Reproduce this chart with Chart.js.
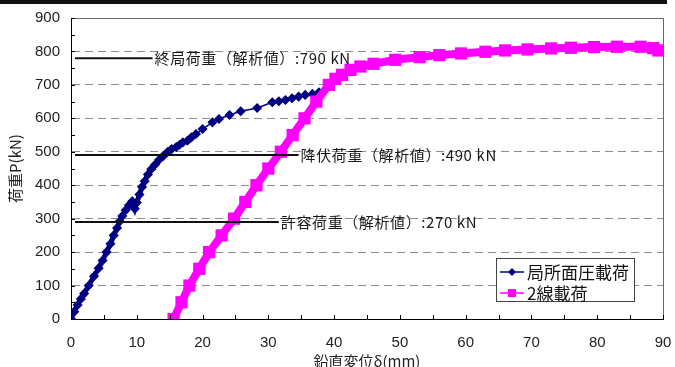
<!DOCTYPE html>
<html>
<head>
<meta charset="utf-8">
<script src="https://cdn.jsdelivr.net/npm/chart.js@4/dist/chart.umd.min.js"></script>
<style>
    body { margin: 0; background: #fff; }
    #wrap { position: relative; width: 675px; height: 367px; }
    #topBar { position: absolute; left: 0; top: 0; width: 667px; height: 4px; background: #111; }
</style>
</head>
<body>
<div id="wrap">
    <canvas id="loadChart" width="675" height="367"></canvas>
    <div id="topBar"></div>
</div>
<script>
// series names (legend)
const seriesNames = ['局所面圧載荷', '2線載荷'];

// 局所面圧載荷: displacement (mm) / load (kN)
const dispLocal = [0, 0.5, 1, 1.5, 2, 2.7, 3.5, 4.2, 4.8, 5.4, 6, 6.5, 7, 7.4, 7.8, 8.3, 8.8, 9.3, 9.7, 10,
    10.4, 10.8, 11.2, 11.7, 12.2, 12.8, 13.4, 14, 14.7, 15.3, 16, 16.5, 17, 17.7, 18.3, 19, 20, 21.5, 22.5,
    24.1, 25.8, 28.3, 30.6, 31.6, 32.6, 33.6, 34.6, 35.6, 36.7, 37.7];
const loadLocal = [0, 22, 42, 60, 76, 100, 128, 152, 175, 200, 225, 250, 272, 292, 308, 325, 340, 352, 330, 348,
    372, 395, 412, 432, 448, 462, 476, 487, 500, 508, 514, 521, 528, 533, 543, 553, 568, 588, 598,
    610, 621, 631, 648, 651, 655, 660, 665, 670, 673, 678];

// 2線載荷
const dispLine2 = [15.6, 16.8, 18, 19.5, 21, 22.9, 24.8, 26.5, 28.2, 30, 31.9, 33.7, 35.5, 37.3, 39.2, 40.2, 41.2,
    42.5, 44, 46, 49.3, 53, 56, 59.3, 63, 66, 69.4, 73, 76, 79.5, 83, 86.6, 88.5, 89.3];
const loadLine2 = [0, 50, 100, 150, 200, 250, 300, 350, 400, 450, 500, 550, 600, 650, 700, 718, 730,
    745, 755, 763, 775, 783, 789, 794, 799, 803, 806, 809, 811, 813, 814, 814, 810, 803];

// reference lines (analysis values)
const refLoads = [780, 490, 290];
const refFrom = [0.6, 0.6, 0.6];
const refTo = [12.4, 34.6, 31.6];
const refLabels = ['終局荷重（解析値）:790 kN', '降伏荷重（解析値）:490 kN', '許容荷重（解析値）:270 kN'];

// axis ticks
const xMin = 0, xMax = 90, xStep = 10, xMinor = 5;
const yMin = 0, yMax = 900, yStep = 100, yMinor = 50;

const jpFont = '"Noto Sans CJK JP", sans-serif';
const numFont = '"Liberation Sans", Arial, sans-serif';

const toPoints = (xs, ys) => xs.map((x, i) => ({ x: x, y: ys[i] }));

const datasets = [
    {
        label: seriesNames[1],
        data: toPoints(dispLine2, loadLine2),
        borderColor: '#ff00ff',
        backgroundColor: '#ff00ff',
        borderWidth: 8,
        pointStyle: 'rect',
        pointRadius: 3,
        showLine: true,
        order: 1
    },
    {
        label: seriesNames[0],
        data: toPoints(dispLocal, loadLocal),
        borderColor: '#000080',
        backgroundColor: '#000080',
        borderWidth: 1.5,
        // the dense lower part reads as a thick band
        segment: {
            borderWidth: c => c.p1.parsed.y <= 510 ? 5 : 1.5
        },
        pointStyle: 'rectRot',
        pointRadius: 4,
        showLine: true,
        order: 2
    }
];
refLoads.forEach((v, i) => {
    datasets.push({
        label: refLabels[i],
        data: [{ x: refFrom[i], y: v }, { x: refTo[i], y: v }],
        borderColor: '#111',
        borderWidth: 2,
        pointRadius: 0,
        showLine: true,
        order: 0
    });
});

// inner ticks, plot frame, line labels and legend
const decorPlugin = {
    id: 'decor',
    afterDatasetsDraw(chart) {
        const ctx = chart.ctx;
        const area = chart.chartArea;
        const xs = chart.scales.x, ys = chart.scales.y;
        ctx.save();

        // frame top / right
        ctx.strokeStyle = '#666';
        ctx.lineWidth = 1;
        ctx.beginPath();
        ctx.moveTo(area.left, area.top + 0.5);
        ctx.lineTo(area.right + 0.5, area.top + 0.5);
        ctx.lineTo(area.right + 0.5, area.bottom);
        ctx.stroke();

        // inner tick marks
        ctx.strokeStyle = '#000';
        ctx.beginPath();
        for (let v = xMin; v <= xMax; v += xMinor) {
            const px = Math.round(xs.getPixelForValue(v)) + 0.5;
            ctx.moveTo(px, area.bottom);
            ctx.lineTo(px, area.bottom - 4);
        }
        for (let v = yMin; v <= yMax; v += yMinor) {
            const py = Math.round(ys.getPixelForValue(v)) + 0.5;
            ctx.moveTo(area.left, py);
            ctx.lineTo(area.left + 4, py);
        }
        ctx.stroke();

        // reference line labels
        ctx.font = '15px ' + jpFont;
        ctx.letterSpacing = '0.6px';
        ctx.fillStyle = '#1a1a1a';
        ctx.textBaseline = 'middle';
        refLoads.forEach((v, i) => {
            ctx.fillText(refLabels[i], xs.getPixelForValue(refTo[i]) + 2, ys.getPixelForValue(v));
        });
        ctx.letterSpacing = '0px';

        // legend box
        const lx = area.right - 167, ly = area.bottom - 61, lw = 138, lh = 43;
        ctx.fillStyle = '#fff';
        ctx.fillRect(lx, ly, lw, lh);
        ctx.strokeStyle = '#444';
        ctx.strokeRect(lx + 0.5, ly + 0.5, lw, lh);
        const entries = [
            { name: seriesNames[0], color: '#000080', marker: 'diamond', y: ly + 14 },
            { name: seriesNames[1], color: '#ff00ff', marker: 'square', y: ly + 35 }
        ];
        entries.forEach(e => {
            ctx.strokeStyle = e.color;
            ctx.lineWidth = 1.5;
            ctx.beginPath();
            ctx.moveTo(lx + 4, e.y);
            ctx.lineTo(lx + 28, e.y);
            ctx.stroke();
            ctx.fillStyle = e.color;
            const mx = lx + 16;
            if (e.marker === 'diamond') {
                ctx.beginPath();
                ctx.moveTo(mx, e.y - 4);
                ctx.lineTo(mx + 4, e.y);
                ctx.lineTo(mx, e.y + 4);
                ctx.lineTo(mx - 4, e.y);
                ctx.closePath();
                ctx.fill();
            } else {
                ctx.fillRect(mx - 4, e.y - 4, 8, 8);
            }
            ctx.fillStyle = '#111';
            ctx.font = '17px ' + jpFont;
            ctx.textBaseline = 'middle';
            ctx.fillText(e.name, lx + 31, e.y + 1);
        });
        ctx.restore();
    }
};

const chart = new Chart(document.getElementById('loadChart'), {
    type: 'scatter',
    data: { datasets: datasets },
    options: {
        responsive: false,
        animation: false,
        devicePixelRatio: 1,
        layout: { padding: { top: 18, right: 9, left: 0, bottom: 0 } },
        plugins: {
            legend: { display: false },
            tooltip: { enabled: false }
        },
        scales: {
            x: {
                type: 'linear',
                min: xMin,
                max: xMax,
                ticks: {
                    stepSize: xStep,
                    color: '#222',
                    font: { family: numFont, size: 15 },
                    padding: 15,
                    maxRotation: 0
                },
                grid: { display: false, drawTicks: false },
                border: { display: true, color: '#000', width: 1 },
                title: {
                    display: true,
                    text: '鉛直変位δ(mm)',
                    color: '#222',
                    font: { family: jpFont, size: 15 },
                    padding: { top: 0, bottom: -3 }
                },
                afterFit: s => {
                    s.height = 48;
                    s.paddingLeft = 0;
                    s.paddingRight = 0;
                }
            },
            y: {
                min: yMin,
                max: yMax,
                ticks: {
                    stepSize: yStep,
                    color: '#222',
                    font: { family: numFont, size: 15 },
                    padding: 11
                },
                grid: {
                    drawTicks: false,
                    color: ctx => (ctx.tick && (ctx.tick.value === yMin || ctx.tick.value === yMax)) ? 'rgba(0,0,0,0)' : '#8c8c8c',
                    lineWidth: 1
                },
                border: { display: true, color: '#000', width: 1, dash: [8, 5] },
                title: {
                    display: true,
                    text: '荷重P(kN)',
                    color: '#222',
                    font: { family: jpFont, size: 15 },
                    padding: { top: 6, bottom: 0 }
                },
                afterFit: s => {
                    s.width = 71;
                    s.paddingTop = 0;
                    s.paddingBottom = 0;
                }
            }
        }
    },
    plugins: [decorPlugin]
});
</script>
</body>
</html>
